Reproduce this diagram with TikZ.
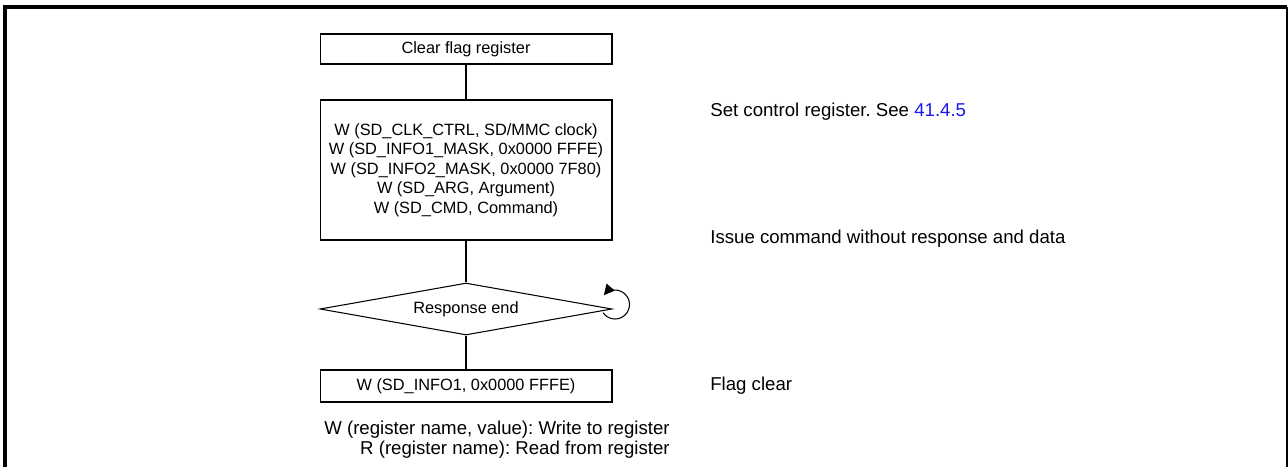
\documentclass[tikz,border=0pt]{standalone}
\usepackage{fontspec}
\setmainfont{Liberation Sans}
\usetikzlibrary{shapes.geometric, arrows.meta}
\definecolor{linkblue}{RGB}{25,25,235}
\frenchspacing
\tikzset{
  fc/.style={draw, line width=0.6pt, font=\fontsize{9.3}{11.1}\selectfont, align=center,
    inner sep=2pt},
  proc/.style={fc, rectangle, minimum width=5.84cm},
  dec/.style={fc, diamond, aspect=5.6, minimum width=5.84cm, minimum height=1.04cm,
    inner sep=0pt},
  conn/.style={line width=0.6pt},
  selfarr/.style={line width=0.6pt, -{Triangle[length=6pt, width=6pt]}},
  remark/.style={font=\fontsize{10.6}{11.4}\selectfont, inner sep=0pt},
}

\begin{document}
\begin{tikzpicture}[x=0.02cm, y=-0.02cm]
      \useasboundingbox (0,0) rectangle (1288,467);
      % frame, open at the bottom
      \draw[line width=2.3pt] (5,467) -- (5,7) -- (1287,7);
      \draw[line width=1.1pt] (1287,7) -- (1287,467);
      % the flow
      \node[proc, minimum height=0.6cm]  (clr)    at (466,49)  {Clear flag register};
      \node[proc, minimum height=2.8cm]  (setreg) at (466,170)
        {W (SD\_CLK\_CTRL, SD/MMC clock)\\W (SD\_INFO1\_MASK, 0x0000 FFFE)\\
         W (SD\_INFO2\_MASK, 0x0000 7F80)\\W (SD\_ARG, Argument)\\W (SD\_CMD, Command)};
      \node[dec]                         (resp)   at (466,309) {Response end};
      \node[proc, minimum height=0.64cm] (fclr)   at (466,386) {W (SD\_INFO1, 0x0000 FFFE)};
      % notes on the right
      \node[remark, anchor=west] (nset)   at (710,112) {Set control register. See \textcolor{linkblue}{41.4.5}};
      \node[remark, anchor=west] (nissue) at (710,239) {Issue command without response and data};
      \node[remark, anchor=west] (nflag)  at (710,386) {Flag clear};
      % legend
      \node[remark, anchor=east, align=right] (legend) at (670,440)
        {W (register name, value): Write to register\\R (register name): Read from register};

      \draw[conn] (clr) -- (setreg);
      \draw[conn] (setreg) -- (resp);
      \draw[conn] (resp) -- (fclr);
      % wait loop on the decision
      \coordinate (loopc) at ([shift={(2.5,-4.5)}]resp.east);
      \draw[selfarr] ([shift={(215:0.29cm)}]loopc) arc[start angle=215, end angle=500, radius=0.29cm];
    \end{tikzpicture}
\end{document}
